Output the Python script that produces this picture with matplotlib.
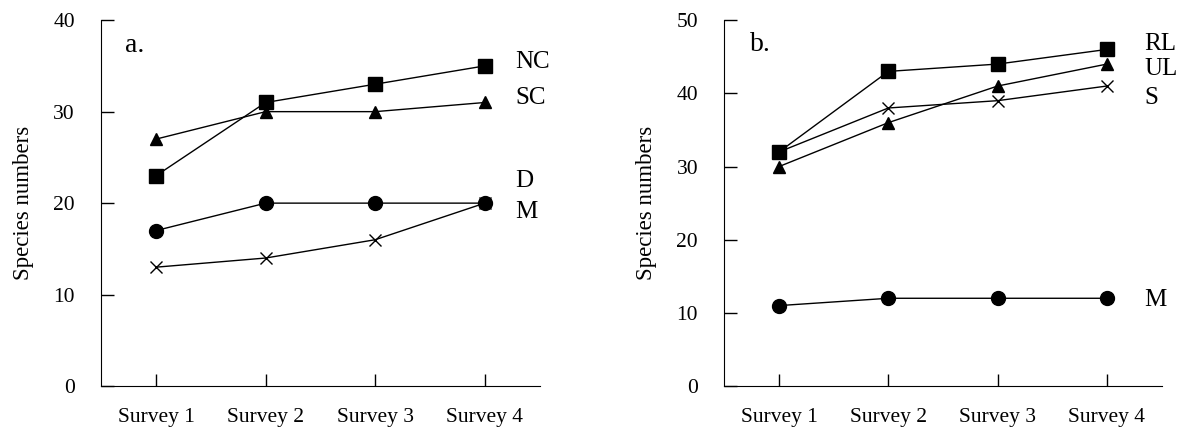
import matplotlib.pyplot as plt

plt.rcParams['font.family'] = ['Liberation Serif', 'DejaVu Serif']

surveys = ["Survey 1", "Survey 2", "Survey 3", "Survey 4"]

# panel a
a_nc = [23, 31, 33, 35]
a_sc = [27, 30, 30, 31]
a_d = [17, 20, 20, 20]
a_m = [13, 14, 16, 20]

# panel b
b_rl = [32, 43, 44, 46]
b_ul = [30, 36, 41, 44]
b_s = [32, 38, 39, 41]
b_m = [11, 12, 12, 12]


def style_axes(ax, ymax, step):
    ax.set_xlim(0.5, 4.5)
    ax.set_ylim(0, ymax)
    ax.set_xticks(range(1, 5))
    ax.set_xticklabels(surveys)
    ax.set_yticks(range(0, ymax + 1, step))
    ax.tick_params(axis='both', direction='in', length=9, width=1, labelsize=15.5)
    ax.tick_params(axis='x', pad=16)
    ax.tick_params(axis='y', pad=19)
    ax.spines['top'].set_visible(False)
    ax.spines['right'].set_visible(False)
    ax.set_ylabel("Species numbers", fontsize=16.5, labelpad=14)


fig = plt.figure(figsize=(11.78, 4.29), dpi=100)
ax1 = fig.add_axes([0.086, 0.10, 0.372, 0.853])
ax2 = fig.add_axes([0.615, 0.10, 0.371, 0.853])

x = [1, 2, 3, 4]
kw = dict(color='black', lw=1)

ax1.plot(x, a_nc, marker='s', ms=10, **kw)
ax1.plot(x, a_sc, marker='^', ms=8, **kw)
ax1.plot(x, a_d, marker='o', ms=10, **kw)
ax1.plot(x, a_m, marker='x', ms=8, mew=1, **kw)
style_axes(ax1, 40, 10)
ax1.text(0.72, 37.2, "a.", fontsize=20, va='center')
for lab, yy in [("NC", 35.4), ("SC", 31.5), ("D", 22.4), ("M", 19.0)]:
    ax1.text(4.28, yy, lab, fontsize=18, va='center', clip_on=False)

ax2.plot(x, b_rl, marker='s', ms=10, **kw)
ax2.plot(x, b_ul, marker='^', ms=8, **kw)
ax2.plot(x, b_s, marker='x', ms=8, mew=1, **kw)
ax2.plot(x, b_m, marker='o', ms=10, **kw)
style_axes(ax2, 50, 10)
ax2.text(0.73, 46.7, "b.", fontsize=20, va='center')
for lab, yy in [("RL", 46.8), ("UL", 43.3), ("S", 39.4), ("M", 11.8)]:
    ax2.text(4.34, yy, lab, fontsize=18, va='center', clip_on=False)

fig.savefig("out.png", dpi=100)
